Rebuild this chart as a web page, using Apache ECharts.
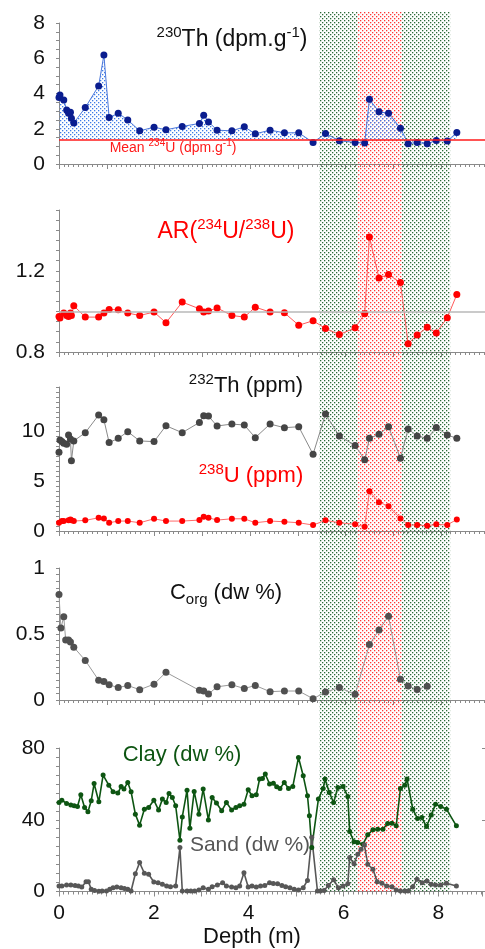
<!DOCTYPE html>
<html>
<head>
<meta charset="utf-8">
<script src="https://cdn.jsdelivr.net/npm/echarts@6/dist/echarts.min.js"></script>
<style>
  html, body { margin: 0; padding: 0; background: #fff; }
  #main { width: 485px; height: 949px; }
</style>
</head>
<body>
<div id="main"></div>
<script>
// U-series samples (depth in m)
const uDepth = [0.0, 0.02, 0.06, 0.1, 0.16, 0.2, 0.24, 0.26, 0.31, 0.55, 0.83, 0.94, 1.05, 1.24, 1.44, 1.69, 1.99, 2.24, 2.58,
  2.94, 3.03, 3.13, 3.31, 3.62, 3.88, 4.11, 4.42, 4.72, 5.02, 5.32, 5.58, 5.87, 6.2, 6.4, 6.5, 6.7, 6.9, 7.15, 7.31,
  7.5, 7.71, 7.9, 8.13, 8.33];
const th230 = [3.77, 3.92, null, 3.63, 3.07, 2.88, 2.94, 2.6, 2.32, 3.2, 4.43, 6.18, 2.64, 2.88, 2.5, 1.88, 2.09, 1.94, 2.13,
  2.3, 2.77, 2.39, 1.92, 1.88, 2.11, 1.71, 1.92, 1.77, 1.77, 1.22, 1.73, 1.32, 1.22, 1.19, 3.67, 2.96, 2.88, 2.03, 1.15,
  1.22, 1.15, 1.34, 1.30, 1.79];
const meanU234 = 1.4;
const arU = [0.975, 0.967, null, 0.992, 0.98, 0.975, 0.992, 0.98, 1.028, 0.972, 0.972, 0.992, 1.01, 1.008, 0.992, 0.98, 0.997, 0.944, 1.046,
  1.013, 0.997, 1.002, 1.017, 0.98, 0.972, 1.021, 0.997, 0.993, 0.932, 0.954, 0.916, 0.886, 0.919, 0.988, 1.367, 1.165, 1.182, 1.142, 0.841,
  0.884, 0.922, 0.894, 0.969, 1.083];
const arRef = 1.0;
const th232 = [7.93, 9.17, 9.0, 8.83, 8.73, 9.67, 9.27, 7.07, 9.07, 9.9, 11.67, 11.2, 8.9, 9.33, 10.0, 9.07, 9.0, 10.6, 9.9,
  10.93, 11.6, 11.57, 10.57, 10.77, 10.67, 9.4, 10.77, 10.4, 10.5, 7.73, 11.77, 9.57, 8.6, 7.17, 9.33, 9.73, 10.5, 7.33, 10.27,
  9.57, 9.33, 10.43, 9.67, 9.33];
const u238 = [0.83, null, 1.0, 1.0, null, 1.07, 1.17, 1.07, 1.0, 1.07, 1.33, 1.27, 0.83, 1.0, 1.0, 0.83, 1.23, 1.0, 1.0,
  1.1, 1.43, 1.33, 1.1, 1.23, 1.23, 0.83, 1.0, 0.93, 0.83, 0.6, 1.07, 0.83, 0.67, 0.43, 4.0, 2.9, 2.5, 1.27, 0.6,
  0.6, 0.53, 0.67, 0.6, 1.17];

// organic carbon
const corgDepth = [0.0, 0.04, 0.1, 0.14, 0.2, 0.24, 0.31, 0.55, 0.83, 0.94, 1.05, 1.24, 1.44, 1.69, 1.99, 2.24, 2.94, 3.03, 3.13,
  3.31, 3.62, 3.88, 4.11, 4.42, 4.72, 5.02, 5.32, 5.58, 5.87, 6.2, 6.5, 6.7, 6.9, 7.15, 7.31, 7.5, 7.71];
const corg = [0.80, 0.545, 0.63, 0.455, 0.455, 0.44, 0.40, 0.30, 0.15, 0.14, 0.115, 0.094, 0.11, 0.078, 0.12, 0.21, 0.073, 0.068, 0.045,
  0.1, 0.115, 0.087, 0.11, 0.063, 0.068, 0.068, 0.01, 0.06, 0.094, 0.043, 0.42, 0.53, 0.635, 0.157, 0.106, 0.08, 0.104];

// grain size
const clayDepth = [0.0, 0.06, 0.16, 0.25, 0.32, 0.39, 0.46, 0.54, 0.61, 0.68, 0.74, 0.84, 0.93, 1.05, 1.14, 1.24, 1.31, 1.37, 1.45,
  1.52, 1.61, 1.70, 1.80, 1.89, 2.00, 2.10, 2.18, 2.26, 2.32, 2.39, 2.46, 2.55, 2.60, 2.70, 2.76, 2.85, 2.95, 3.04, 3.15,
  3.23, 3.32, 3.43, 3.53, 3.64, 3.73, 3.81, 3.90, 3.99, 4.07, 4.16, 4.23, 4.29, 4.35, 4.44, 4.52, 4.59, 4.66, 4.75, 4.84,
  4.93, 5.05, 5.15, 5.24, 5.28, 5.33, 5.47, 5.57, 5.61, 5.70, 5.79, 5.88, 5.99, 6.09, 6.13, 6.22, 6.30, 6.41, 6.51, 6.62,
  6.72, 6.83, 6.93, 7.02, 7.11, 7.20, 7.29, 7.34, 7.46, 7.56, 7.65, 7.75, 7.85, 7.94, 8.05, 8.17, 8.38];
const clay = [49.6, 50.9, 49.1, 48.2, 47.8, 47.4, 53.9, 46.8, 44.4, 50.6, 60.2, 50.0, 64.9, 59.3, 55.6, 54.9, 58.5, 57.1, 60.8,
  55.6, 43.1, 37.0, 45.9, 46.8, 50.9, 45.4, 51.5, 49.6, 54.6, 52.4, 47.8, 28.6, 41.6, 56.5, 35.2, 55.8, 43.1, 57.1, 39.9,
  52.4, 49.3, 45.0, 49.6, 45.5, 46.8, 47.8, 48.7, 56.7, 53.4, 53.9, 62.7, 63.0, 65.5, 59.9, 60.4, 58.4, 57.4, 60.8, 57.4,
  58.5, 74.7, 64.5, 53.4, 42.2, 24.5, 51.5, 57.4, 62.7, 55.2, 49.6, 58.0, 58.5, 53.0, 33.4, 27.7, 27.3, 26.4, 31.6, 34.4,
  34.7, 34.7, 37.9, 38.1, 36.6, 57.4, 59.3, 62.7, 45.9, 40.7, 41.2, 36.2, 42.6, 48.7, 47.4, 45.9, 36.6];
const sandDepth = [0.0, 0.06, 0.16, 0.25, 0.34, 0.41, 0.48, 0.57, 0.62, 0.68, 0.75, 0.84, 0.91, 1.0, 1.07, 1.14, 1.22, 1.31, 1.38,
  1.45, 1.52, 1.61, 1.70, 1.80, 1.89, 2.0, 2.09, 2.18, 2.27, 2.35, 2.46, 2.55, 2.60, 2.70, 2.78, 2.86, 2.95, 3.04, 3.15,
  3.23, 3.34, 3.45, 3.53, 3.64, 3.73, 3.81, 3.90, 3.99, 4.07, 4.16, 4.25, 4.34, 4.44, 4.52, 4.61, 4.70, 4.78, 4.87, 4.96,
  5.05, 5.15, 5.24, 5.33, 5.45, 5.51, 5.59, 5.68, 5.79, 5.89, 5.99, 6.09, 6.13, 6.22, 6.30, 6.37, 6.44, 6.51, 6.62, 6.71,
  6.81, 6.91, 7.02, 7.11, 7.20, 7.29, 7.36, 7.46, 7.55, 7.66, 7.76, 7.85, 7.94, 8.05, 8.17, 8.38];
const sand = [3.1, 3.1, 3.6, 3.6, 3.4, 3.1, 2.5, 5.5, 5.5, 1.2, 0.6, 0.2, 0.3, 0.3, 1.2, 2.1, 2.5, 2.1, 1.7,
  1.2, 0.3, 9.9, 16.1, 10.2, 9.6, 5.3, 4.9, 4.0, 3.1, 2.7, 3.1, 24.5, 0.3, 0.3, 0.3, 0.3, 0.8, 2.1, 1.2,
  2.7, 3.6, 4.9, 3.1, 2.5, 2.1, 3.1, 10.5, 2.5, 3.1, 2.5, 3.1, 3.4, 4.9, 4.5, 4.3, 3.4, 2.7, 2.1, 1.2,
  0.8, 2.1, 6.2, 30.3, 0.3, 0.3, 0.6, 3.3, 6.6, 2.1, 3.1, 4.3, 18.9, 15.5, 20.8, 23.6, 26.0, 15.2, 12.4, 5.5,
  4.6, 3.1, 2.7, 0.8, 0.3, 0.3, 0.3, 2.7, 6.8, 4.9, 5.9, 4.0, 3.6, 3.6, 4.6, 3.1];

// shaded depth intervals
const greenBand = [5.45, 8.19];
const redBand = [6.25, 7.18];

// y axes: [min, max, minor step, label step]
const yRanges = [[0, 8, 0.5, 2], [0.8, 1.5, 0.05, 0.4], [0, 14.5, 0.5, 5], [0, 1, 0.05, 0.5], [0, 80, 5, 40]];
const xLabels = [0, 2, 4, 6, 8];
const depthMax = 8.92; // axis is cut at the right edge

const FONT = "'Liberation Sans', Arial, sans-serif";

function dots(color) {
    const c = document.createElement('canvas');
    c.width = 4; c.height = 4;
    const ctx = c.getContext('2d');
    ctx.fillStyle = color;
    ctx.fillRect(0, 0, 1.3, 1.3);
    ctx.fillRect(2, 2, 1.3, 1.3);
    return { image: c, repeat: 'repeat' };
}

const pair = (xs, ys) => xs.map((d, i) => [d, ys[i]]).filter(p => p[1] != null);

const grids = [
    { top: 23, height: 141 },
    { top: 210, height: 142 },
    { top: 387, height: 144 },
    { top: 568, height: 132 },
    { top: 748, height: 143.5 },
    { top: 12, height: 880 }
].map(g => Object.assign({ left: 59, right: 0 }, g));

const axisGray = '#8a8a8a';
const xAxes = grids.map((g, i) => ({
    type: 'value', gridIndex: i, min: 0, max: depthMax, interval: 1,
    show: i < 5,
    axisLine: { lineStyle: { color: axisGray, width: 1 } },
    axisTick: { length: 5, lineStyle: { color: axisGray } },
    minorTick: { show: true, splitNumber: 10, length: 3, lineStyle: { color: axisGray } },
    splitLine: { show: false },
    axisLabel: {
        show: i === 4, margin: 11, color: '#111', fontSize: 21, fontFamily: FONT,
        formatter: v => xLabels.includes(v) ? String(v) : ''
    }
}));

const isStep = (v, s) => Math.abs(v / s - Math.round(v / s)) < 1e-6;
const yAxes = [];
yRanges.forEach((r, i) => {
    yAxes.push({
        type: 'value', gridIndex: i, min: r[0], max: r[1], interval: r[2],
        axisLine: { show: true, lineStyle: { color: axisGray, width: 1 } },
        axisTick: { length: 3, lineStyle: { color: axisGray } },
        splitLine: { show: false },
        axisLabel: {
            margin: 14, color: '#111', fontSize: 21, fontFamily: FONT,
            formatter: v => isStep(v, r[3]) ? String(Math.round(v * 10) / 10) : ''
        }
    });
    // longer ticks at labelled values
    yAxes.push({
        type: 'value', gridIndex: i, min: r[0], max: r[1], interval: r[3],
        axisLine: { show: false },
        axisTick: { length: 6, lineStyle: { color: axisGray } },
        splitLine: { show: false },
        axisLabel: { show: false }
    });
});
yAxes.push({ type: 'value', gridIndex: 5, min: 0, max: 1, show: false });

function line(name, xi, yi, data, dot, stroke, size, width) {
    return {
        name, type: 'line', xAxisIndex: xi, yAxisIndex: yi, data,
        symbol: 'circle', symbolSize: size, z: 3,
        itemStyle: { color: dot },
        lineStyle: { color: stroke, width: width },
        connectNulls: true, animation: false
    };
}

const th230Series = line('230Th', 0, 0, pair(uDepth, th230), '#0a1d8f', '#4b78dc', 7, 1);
th230Series.areaStyle = { origin: meanU234, color: dots('#3d7be6'), opacity: 1 };
th230Series.markLine = {
    silent: true, symbol: ['none', 'none'], label: { show: false },
    lineStyle: { color: '#ff1a1a', width: 1.6, type: 'solid' },
    data: [{ yAxis: meanU234 }]
};

const arSeries = line('AR', 1, 2, pair(uDepth, arU), '#ff0000', '#ff5a5a', 7, 1);
arSeries.markLine = {
    silent: true, symbol: ['none', 'none'], label: { show: false },
    lineStyle: { color: '#b8b8b8', width: 1.5, type: 'solid' },
    data: [{ yAxis: arRef }]
};

const bandSeries = {
    type: 'line', xAxisIndex: 5, yAxisIndex: 10, data: [], z: 1, silent: true,
    markArea: {
        silent: true,
        data: [
            [{ xAxis: greenBand[0], itemStyle: { color: dots('#2a6a36'), opacity: 1 } }, { xAxis: redBand[0] }],
            [{ xAxis: redBand[0], itemStyle: { color: dots('#ff3535'), opacity: 1 } }, { xAxis: redBand[1] }],
            [{ xAxis: redBand[1], itemStyle: { color: dots('#2a6a36'), opacity: 1 } }, { xAxis: greenBand[1] }]
        ]
    }
};

const series = [
    bandSeries,
    th230Series,
    arSeries,
    line('232Th', 2, 4, pair(uDepth, th232), '#454545', '#8a8a8a', 7, 1),
    line('238U', 2, 4, pair(uDepth, u238), '#ff0000', '#ff6a6a', 6, 1),
    line('Corg', 3, 6, pair(corgDepth, corg), '#505050', '#9a9a9a', 7, 1),
    line('Clay', 4, 8, pair(clayDepth, clay), '#0d5512', '#0d5512', 5, 1.6),
    line('Sand', 4, 8, pair(sandDepth, sand), '#575757', '#575757', 5, 1.6)
];

function label(text, x, y, color, size, rich) {
    return {
        type: 'text', x, y, z: 10,
        style: {
            text, fill: color, fontSize: size, fontFamily: FONT, lineHeight: size + 6,
            align: 'center', verticalAlign: 'middle', rich
        }
    };
}
const supRich = (size, color) => ({
    sup: { fontSize: size, fontFamily: FONT, fill: color, color, verticalAlign: 'top', lineHeight: size - 2 },
    sub: { fontSize: size, fontFamily: FONT, fill: color, color, verticalAlign: 'bottom', lineHeight: size - 6 }
});

const graphics = [
    label('{sup|230}Th (dpm.g{sup|-1})', 232, 40, '#111', 23, supRich(15, '#111')),
    label('Mean {sup|234}U (dpm.g{sup|-1})', 173, 148, '#ff1a1a', 14, supRich(10, '#ff1a1a')),
    label('AR({sup|234}U/{sup|238}U)', 226, 232, '#ff0000', 23, supRich(15, '#ff0000')),
    label('{sup|232}Th (ppm)', 246, 386, '#111', 22, supRich(15, '#111')),
    label('{sup|238}U (ppm)', 251, 476, '#ff0000', 22, supRich(15, '#ff0000')),
    label('C{sub|org} (dw %)', 226, 593, '#111', 22, supRich(15, '#111')),
    label('Clay (dw %)', 182, 755, '#0d5512', 22),
    label('Sand (dw %)', 250, 845, '#555', 21),
    label('Depth (m)', 252, 937, '#111', 22)
];

const chart = echarts.init(document.getElementById('main'), null, { renderer: 'canvas' });
chart.setOption({
    animation: false,
    backgroundColor: '#fff',
    grid: grids,
    xAxis: xAxes,
    yAxis: yAxes,
    series,
    graphic: graphics
});
</script>
</body>
</html>
